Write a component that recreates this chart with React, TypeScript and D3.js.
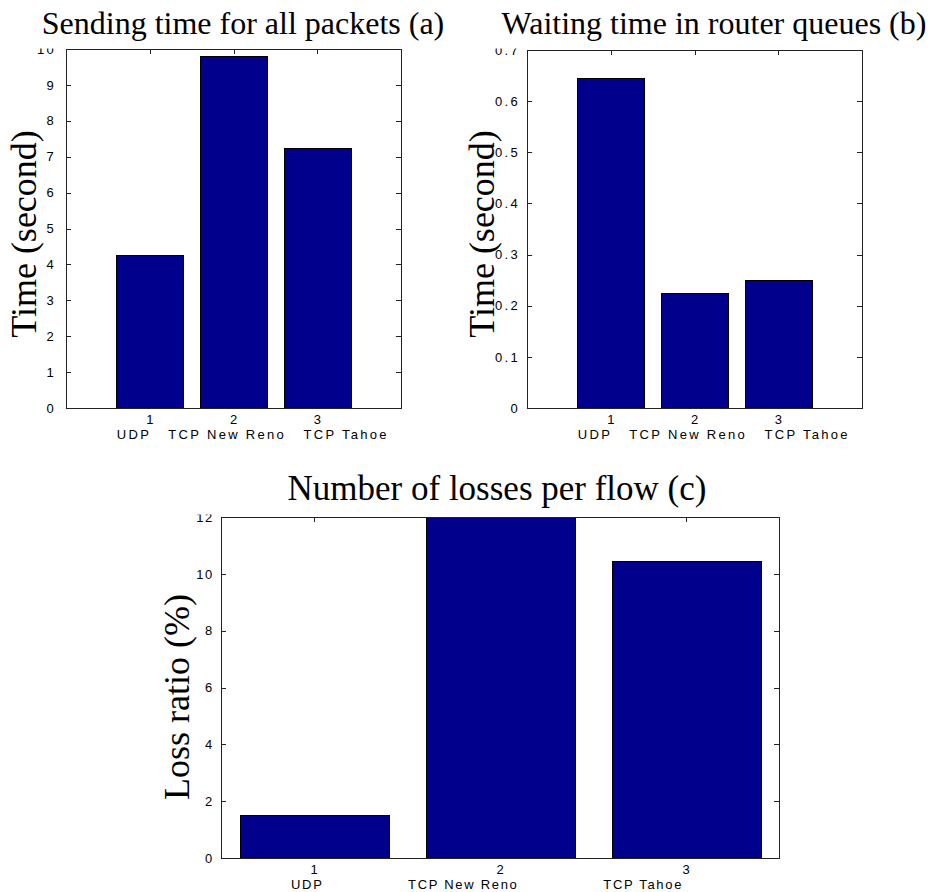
import React from "react";
import * as d3 from "d3";

// ---- data ----
const categories = ["UDP", "TCP New Reno", "TCP Tahoe"];
const positions = [1, 2, 3];
const sendingTime = [4.25, 9.8, 7.23];
const waitingTime = [0.645, 0.224, 0.251];
const lossRatio = [1.5, 12, 10.45];
const ticksA = [0, 1, 2, 3, 4, 5, 6, 7, 8, 9, 10];
const ticksB = [0, 0.1, 0.2, 0.3, 0.4, 0.5, 0.6, 0.7];
const ticksC = [0, 2, 4, 6, 8, 10, 12];
const titles = [
  "Sending time for all packets (a)",
  "Waiting time in router queues (b)",
  "Number of losses per flow (c)",
];
const yLabels = ["Time (second)", "Time (second)", "Loss ratio (%)"];

const BAR = "#00008C";
const AX = "#222";
const TICKFONT = "'Liberation Sans', Arial, Helvetica, sans-serif";
const SERIF = "'Liberation Serif', 'Times New Roman', serif";

type PanelProps = {
  left: number;
  right: number;
  top: number;
  bottom: number;
  xDomain: [number, number];
  yMax: number;
  values: number[];
  yTicks: number[];
  tickPad: number;
  ls: number;
  catOffset: number;
  catGap: number;
};

function Panel(p: PanelProps) {
  const x = d3.scaleLinear().domain(p.xDomain).range([p.left, p.right]);
  const y = d3.scaleLinear().domain([0, p.yMax]).range([p.bottom, p.top]);
  const step = x(2) - x(1);
  const bw = step * 0.8;
  const tl = 5;
  const catLine = categories.join(" ".repeat(p.catGap));
  return (
    <g>
      {p.yTicks.map((t) => (
        <g key={"y" + t}>
          <line x1={p.left} x2={p.left + tl} y1={Math.round(y(t)) + 0.5} y2={Math.round(y(t)) + 0.5} stroke={AX} />
          <line x1={p.right - tl} x2={p.right} y1={Math.round(y(t)) + 0.5} y2={Math.round(y(t)) + 0.5} stroke={AX} />
          <text
            x={p.left - p.tickPad}
            y={y(t)}
            dy="0.36em"
            textAnchor="end"
            fontFamily={TICKFONT}
            fontSize={13}
            letterSpacing={p.ls}
            fill="#000"
          >
            {d3.format("~g")(t)}
          </text>
        </g>
      ))}
      {positions.map((v) => (
        <g key={"x" + v}>
          <line x1={Math.round(x(v)) + 0.5} x2={Math.round(x(v)) + 0.5} y1={p.top} y2={p.top + tl} stroke={AX} />
          <line x1={Math.round(x(v)) + 0.5} x2={Math.round(x(v)) + 0.5} y1={p.bottom - tl} y2={p.bottom} stroke={AX} />
          <text x={x(v)} y={p.bottom + 16} textAnchor="middle" fontFamily={TICKFONT} fontSize={13} fill="#000">
            {String(v)}
          </text>
        </g>
      ))}
      {p.values.map((v, i) => {
        const yt = Math.max(y(v), p.top);
        return (
          <rect
            key={"b" + i}
            x={Math.round(x(positions[i]) - bw / 2) + 0.5}
            y={Math.round(yt) + 0.5}
            width={Math.round(bw)}
            height={Math.round(p.bottom - yt)}
            fill={BAR}
            stroke="#000"
            strokeWidth={1}
          />
        );
      })}
      <rect
        x={p.left + 0.5}
        y={p.top + 0.5}
        width={p.right - p.left}
        height={p.bottom - p.top}
        fill="none"
        stroke={AX}
        strokeWidth={1}
      />
      <text
        x={x(1) + p.catOffset}
        y={p.bottom + 31}
        textAnchor="start"
        fontFamily={TICKFONT}
        fontSize={13}
        letterSpacing={p.ls}
        style={{ whiteSpace: "pre" }}
        fill="#000"
      >
        {catLine}
      </text>
    </g>
  );
}

export default function App() {
  return (
    <svg width={935} height={892} style={{ display: "block", position: "absolute", left: 0, top: 0 }}>
      <rect x={0} y={0} width={935} height={892} fill="#fff" />
      <Panel left={66} right={401} top={49} bottom={408} xDomain={[0, 4]} yMax={10} values={sendingTime} yTicks={ticksA} tickPad={10} ls={2.3} catOffset={-33} catGap={3} />
      <Panel left={527} right={862} top={50} bottom={408} xDomain={[0, 4]} yMax={0.7} values={waitingTime} yTicks={ticksB} tickPad={7} ls={2.3} catOffset={-33} catGap={3} />
      <Panel left={221} right={779} top={517} bottom={858} xDomain={[0.5, 3.5]} yMax={12} values={lossRatio} yTicks={ticksC} tickPad={7} ls={1.7} catOffset={-23} catGap={16} />
      {/* white bands over clipped top tick labels */}
      <rect x={0} y={0} width={935} height={48.5} fill="#fff" />
      <rect x={0} y={455} width={935} height={59.5} fill="#fff" />
      <text x={243} y={34} textAnchor="middle" fontFamily={SERIF} fontSize={32} fill="#000">{titles[0]}</text>
      <text x={714} y={34} textAnchor="middle" fontFamily={SERIF} fontSize={32} fill="#000">{titles[1]}</text>
      <text x={497} y={500} textAnchor="middle" fontFamily={SERIF} fontSize={35} fill="#000">{titles[2]}</text>
      <text transform="translate(36,234) rotate(-90)" textAnchor="middle" fontFamily={SERIF} fontSize={36} fill="#000">{yLabels[0]}</text>
      <text transform="translate(494,234) rotate(-90)" textAnchor="middle" fontFamily={SERIF} fontSize={36} fill="#000">{yLabels[1]}</text>
      <text transform="translate(189,697) rotate(-90)" textAnchor="middle" fontFamily={SERIF} fontSize={36} fill="#000">{yLabels[2]}</text>
    </svg>
  );
}
